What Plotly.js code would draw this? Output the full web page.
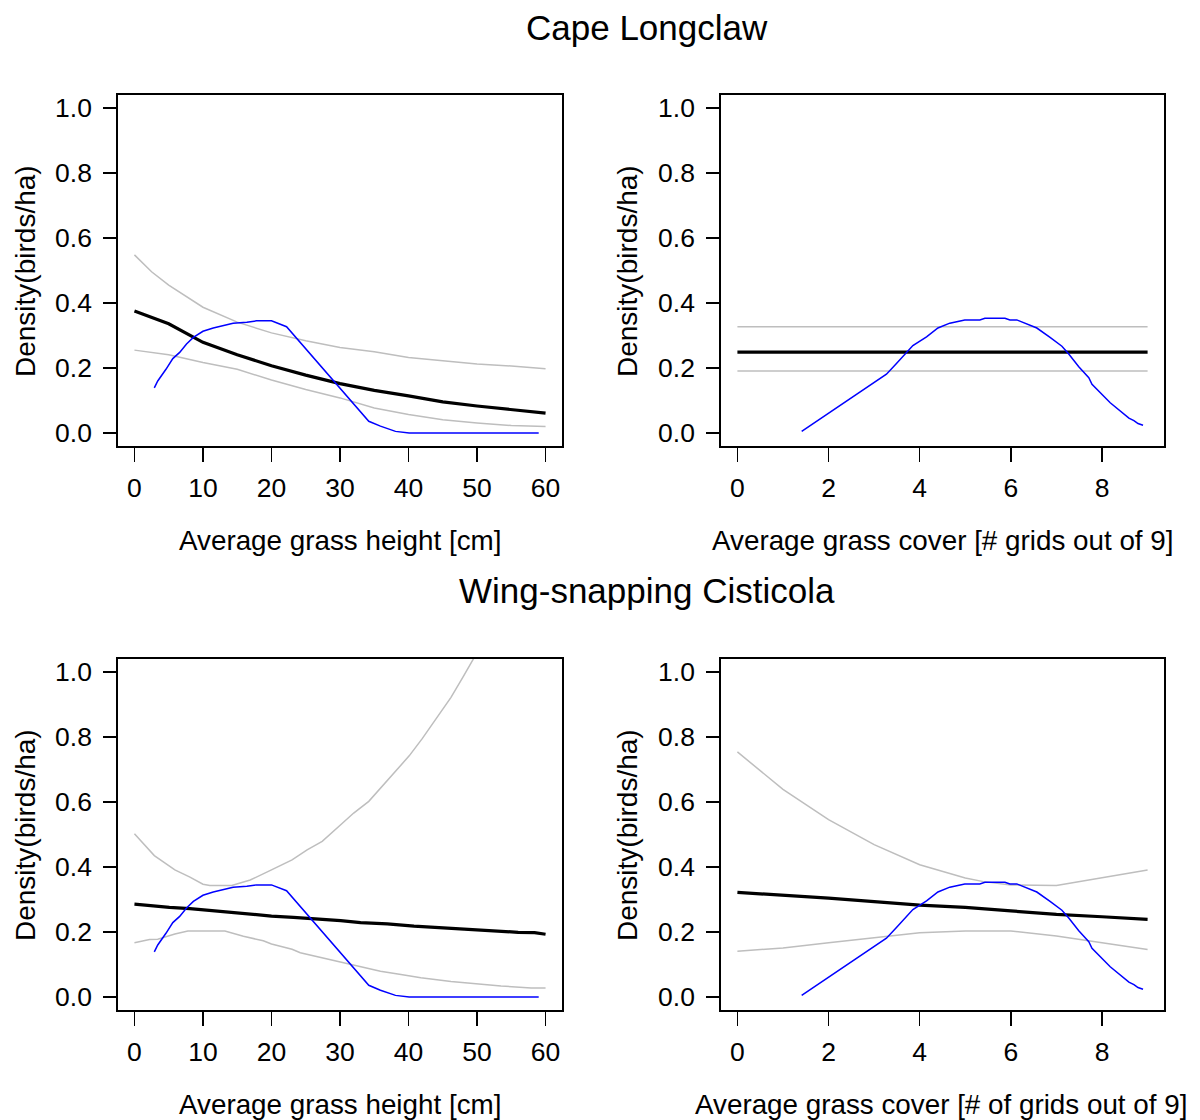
<!DOCTYPE html>
<html><head><meta charset="utf-8">
<script src="https://cdn.plot.ly/plotly-3.0.1.min.js"></script>
<style>html,body{margin:0;padding:0;background:#fff}#chart{width:1200px;height:1120px}</style>
</head><body><div id="chart"></div>
<script>
// ---- Data ----
const panelTitles = ["Cape Longclaw", "Wing-snapping Cisticola"];
const xTitleHeight = "Average grass height [cm]";
const xTitleCoverTop = "Average grass cover [# grids out of 9]";
const xTitleCoverBottom = "Average grass cover [# of grids out of 9]";
const yTitle = "Density(birds/ha)";

// Cape Longclaw – grass height
const clHeightX = [0,5,10,15,20,25,30,35,40,45,50,55,60];
const clHeightMean = [0.375,0.336,0.279,0.241,0.207,0.178,0.152,0.131,0.114,0.096,0.083,0.072,0.061];
const clHeightCIx = [0,2.5,5,10,15,20,25,30,35,40,45,50,55,60];
const clHeightUpper = [0.548,0.496,0.455,0.387,0.341,0.308,0.284,0.263,0.250,0.232,0.222,0.212,0.206,0.198];
const clHeightLower = [0.255,0.248,0.241,0.217,0.196,0.163,0.134,0.108,0.077,0.057,0.041,0.031,0.023,0.020];

// Cape Longclaw – grass cover
const clCoverX = [0,9];
const clCoverMean = [0.249,0.249];
const clCoverUpper = [0.327,0.327];
const clCoverLower = [0.191,0.191];

// Distribution of grass height (blue)
const heightDensX = [2.9,3.4,4.6,5.6,6.6,7.6,8.6,10.0,11.5,13.2,14.4,16.4,17.8,20.0,22.2,34.2,35.9,38.1,40.1,59.0];
const heightDensY = [0.139,0.160,0.196,0.229,0.248,0.274,0.294,0.313,0.323,0.333,0.338,0.341,0.345,0.345,0.327,0.036,0.021,0.005,0.0,0.0];

// Distribution of grass cover (blue)
const coverDensX = [1.41,3.27,3.49,3.85,4.15,4.40,4.66,4.99,5.32,5.43,5.87,5.98,6.13,6.57,6.86,7.12,7.27,7.49,7.71,7.78,8.18,8.59,8.70,8.79,8.90];
const coverDensY = [0.005,0.181,0.214,0.269,0.296,0.323,0.338,0.348,0.348,0.353,0.353,0.348,0.348,0.323,0.294,0.267,0.243,0.204,0.170,0.150,0.093,0.046,0.038,0.029,0.024];

// Wing-snapping Cisticola – grass height
const wsHeightMeanX = [0,2.2,5.1,8.1,11,13.9,16.9,20,23.2,26.2,30.1,33,36.9,40.8,44.7,48.2,52.1,56,58.4,60];
const wsHeightMean = [0.286,0.281,0.276,0.272,0.266,0.260,0.254,0.249,0.245,0.241,0.235,0.229,0.225,0.218,0.213,0.208,0.204,0.199,0.198,0.193];
const wsHeightUpperX = [0,2.9,5.9,8.1,10,11,14.2,16.9,20,23,25.2,27.4,30.1,32,34.2,36.2,38.1,40.1,42,44,46.2,47.9,49.6];
const wsHeightUpper = [0.502,0.435,0.391,0.369,0.347,0.343,0.343,0.360,0.391,0.422,0.453,0.479,0.530,0.566,0.602,0.649,0.692,0.742,0.795,0.855,0.922,0.983,1.045];
const wsHeightLowerX = [0,2.2,3.4,5.9,7.8,13.2,15.9,18.8,20,23,24.2,26.7,30.1,33,35.9,38.9,41.8,46.2,49.6,53.5,57.9,60];
const wsHeightLower = [0.167,0.177,0.178,0.194,0.203,0.203,0.187,0.173,0.163,0.147,0.136,0.124,0.108,0.093,0.079,0.069,0.059,0.048,0.041,0.034,0.028,0.028];

// Wing-snapping Cisticola – grass cover
const wsCoverMeanX = [0,2,4,5,6,7,8,9];
const wsCoverMean = [0.322,0.304,0.283,0.276,0.265,0.254,0.247,0.239];
const wsCoverUpperX = [0,1,2,3,4,5,5.4,6,7,8,9];
const wsCoverUpper = [0.754,0.639,0.546,0.469,0.407,0.366,0.355,0.345,0.343,0.366,0.391];
const wsCoverLowerX = [0,1,2,3,4,5,6,7,8,9];
const wsCoverLower = [0.141,0.151,0.167,0.182,0.198,0.203,0.203,0.188,0.167,0.146];

const heightTicks = [0,10,20,30,40,50,60];
const coverTicks = [0,2,4,6,8];
const yTicks = [0,0.2,0.4,0.6,0.8,1.0];
const yTickText = ["0.0","0.2","0.4","0.6","0.8","1.0"];

// ---- Styles ----
const GRAY = "#bebebe", BLUE = "#0000ff", BLACK = "#000000";
const FONT = "Liberation Sans, Arial, sans-serif";
function ln(x, y, color, width, xa, ya) {
  return {x: x, y: y, type: "scatter", mode: "lines", xaxis: xa, yaxis: ya,
    line: {color: color, width: width}, hoverinfo: "skip", showlegend: false};
}
const traces = [
  ln(clHeightCIx, clHeightUpper, GRAY, 1.5, "x", "y"),
  ln(clHeightCIx, clHeightLower, GRAY, 1.5, "x", "y"),
  ln(clHeightX, clHeightMean, BLACK, 3.2, "x", "y"),
  ln(heightDensX, heightDensY, BLUE, 1.5, "x", "y"),

  ln(clCoverX, clCoverUpper, GRAY, 1.5, "x2", "y2"),
  ln(clCoverX, clCoverLower, GRAY, 1.5, "x2", "y2"),
  ln(clCoverX, clCoverMean, BLACK, 3.2, "x2", "y2"),
  ln(coverDensX, coverDensY, BLUE, 1.5, "x2", "y2"),

  ln(wsHeightUpperX, wsHeightUpper, GRAY, 1.5, "x3", "y3"),
  ln(wsHeightLowerX, wsHeightLower, GRAY, 1.5, "x3", "y3"),
  ln(wsHeightMeanX, wsHeightMean, BLACK, 3.2, "x3", "y3"),
  ln(heightDensX, heightDensY, BLUE, 1.5, "x3", "y3"),

  ln(wsCoverUpperX, wsCoverUpper, GRAY, 1.5, "x4", "y4"),
  ln(wsCoverLowerX, wsCoverLower, GRAY, 1.5, "x4", "y4"),
  ln(wsCoverMeanX, wsCoverMean, BLACK, 3.2, "x4", "y4"),
  ln(coverDensX, coverDensY, BLUE, 1.5, "x4", "y4")
];

const W = 1200, H = 1120;
const colX = [[118,562],[721,1164]];
const rowY = [[95,446],[659,1010]];
const TF = {family: FONT, size: 26.5, color: "#000"};
function xax(i, col, row) {
  const isH = col === 0;
  return {
    domain: [colX[col][0]/W, colX[col][1]/W],
    anchor: "y" + (i === 1 ? "" : i),
    range: isH ? [-2.4, 62.4] : [-0.36, 9.36],
    tickmode: "array", tickvals: isH ? heightTicks : coverTicks,
    ticks: "outside", ticklen: 14, tickwidth: 1.5, tickcolor: "#000",
    ticklabelstandoff: 3,
    showline: true, linecolor: "#000", linewidth: 1.8, mirror: true,
    showgrid: false, zeroline: false, tickfont: TF, fixedrange: true
  };
}
function yax(i, col, row) {
  return {
    domain: [1 - rowY[row][1]/H, 1 - rowY[row][0]/H],
    anchor: "x" + (i === 1 ? "" : i),
    range: [-0.04, 1.04],
    tickmode: "array", tickvals: yTicks, ticktext: yTickText,
    ticks: "outside", ticklen: 13, tickwidth: 1.5, tickcolor: "#000",
    ticklabelstandoff: 6,
    showline: true, linecolor: "#000", linewidth: 1.8, mirror: true,
    showgrid: false, zeroline: false, tickfont: TF, fixedrange: true
  };
}
function ann(text, px, py, size, angle) {
  return {text: text, x: px/W, y: 1 - py/H, xref: "paper", yref: "paper",
    xanchor: "center", yanchor: "middle", showarrow: false, textangle: angle || 0,
    font: {family: FONT, size: size, color: "#000"}};
}
const layout = {
  width: W, height: H, margin: {l: 0, r: 0, t: 0, b: 0},
  paper_bgcolor: "#fff", plot_bgcolor: "#fff", showlegend: false,
  xaxis: xax(1,0,0), yaxis: yax(1,0,0),
  xaxis2: xax(2,1,0), yaxis2: yax(2,1,0),
  xaxis3: xax(3,0,1), yaxis3: yax(3,0,1),
  xaxis4: xax(4,1,1), yaxis4: yax(4,1,1),
  annotations: [
    ann(panelTitles[0], 647, 27, 35),
    ann(panelTitles[1], 647, 590, 35),
    ann(xTitleHeight, 340, 540, 27.8),
    ann(xTitleCoverTop, 942, 540, 27.8),
    ann(xTitleHeight, 340, 1104, 27.8),
    ann(xTitleCoverBottom, 941, 1104, 27.8),
    ann(yTitle, 25, 271, 28, -90),
    ann(yTitle, 627, 271, 28, -90),
    ann(yTitle, 25, 835, 28, -90),
    ann(yTitle, 627, 835, 28, -90)
  ]
};
Plotly.newPlot("chart", traces, layout, {staticPlot: true, displayModeBar: false});
</script></body></html>
